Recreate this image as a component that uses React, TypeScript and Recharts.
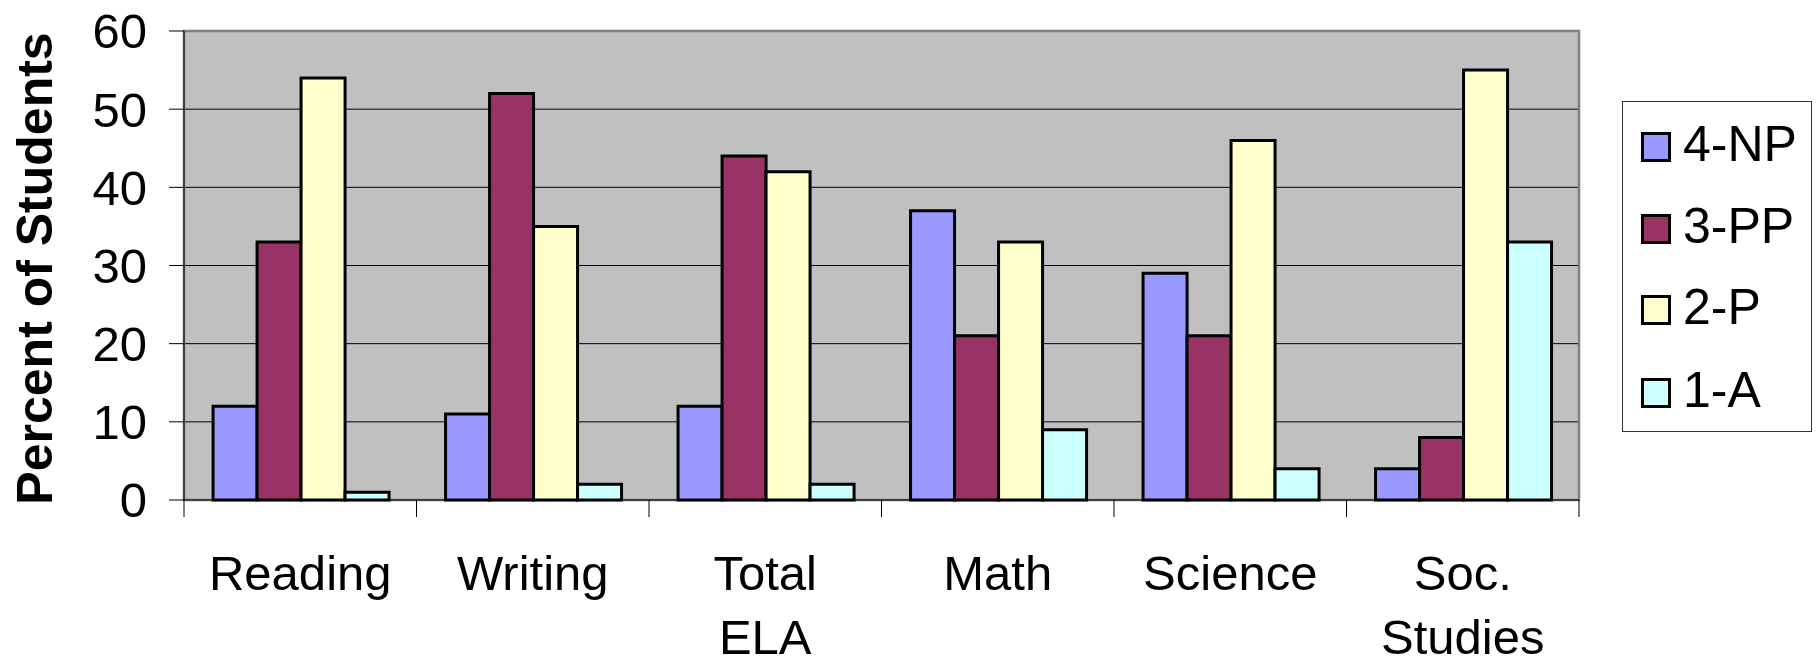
import React from 'react';
import { BarChart, Bar, XAxis, YAxis, CartesianGrid, Legend, ReferenceArea } from 'recharts';

const categories = ['Reading', 'Writing', 'Total ELA', 'Math', 'Science', 'Soc. Studies'];
const np4 = [12, 11, 12, 37, 29, 4];
const pp3 = [33, 52, 44, 21, 21, 8];
const p2 = [54, 35, 42, 33, 46, 55];
const a1 = [1, 2, 2, 9, 4, 33];
const yTicks = [0, 10, 20, 30, 40, 50, 60];
const seriesNames = ['4-NP', '3-PP', '2-P', '1-A'];
const seriesKeys = ['np4', 'pp3', 'p2', 'a1'];
const seriesColors = ['#9999FF', '#993366', '#FFFFCC', '#CCFFFF'];

const data = categories.map((c, i) => ({ name: c, np4: np4[i], pp3: pp3[i], p2: p2[i], a1: a1[i] }));

const FONT = '"Liberation Sans", Arial, Helvetica, sans-serif';

function XTick(props: any) {
  const { x, y, payload } = props;
  const half = payload.offset || 0;
  const lines = String(payload.value).split(' ');
  const isLast = payload.value === categories[categories.length - 1];
  return (
    <g>
      <line x1={x - half} x2={x - half} y1={y} y2={y + 17} stroke="#000" strokeWidth={1} />
      {isLast && <line x1={x + half} x2={x + half} y1={y} y2={y + 17} stroke="#000" strokeWidth={1} />}
      {lines.map((l, i) => (
        <text key={i} x={x} y={y + 90 + i * 64} textAnchor="middle" fontSize={49} fontFamily={FONT} fill="#000">
          {l}
        </text>
      ))}
    </g>
  );
}

function YLabel(props: any) {
  const vb = props.viewBox || { x: 0, y: 31, width: 184, height: 469 };
  const cx = vb.x + 52;
  const cy = vb.y + vb.height / 2 + 3;
  return (
    <text x={cx} y={cy} transform={`rotate(-90 ${cx} ${cy})`} textAnchor="middle" fontSize={50} fontWeight="bold" fontFamily={FONT} fill="#000">
      Percent of Students
    </text>
  );
}

function LegendBox(props: any) {
  const payload = [...(props.payload || [])].sort(
    (a: any, b: any) => seriesNames.indexOf(a.value) - seriesNames.indexOf(b.value)
  );
  const baselines = [59, 141, 222, 305];
  return (
    <div style={{ width: 190, height: 331, boxSizing: 'border-box', border: '1px solid #333', background: '#fff' }}>
      <svg width={188} height={329} style={{ display: 'block' }}>
        {payload.map((p: any, i: number) => (
          <g key={i}>
            <rect x={19.5} y={baselines[i] - 27.5} width={27} height={27} fill={p.color} stroke="#000" strokeWidth={3} />
            <text x={60} y={baselines[i]} fontSize={50} fontFamily={FONT} fill="#000">{p.value}</text>
          </g>
        ))}
      </svg>
    </div>
  );
}

export default function App() {
  return (
    <div style={{ position: 'absolute', left: 0, top: 0, width: 1816, height: 661, background: '#fff' }}>
      <BarChart
        width={1816}
        height={661}
        data={data}
        margin={{ top: 31, right: 237, left: 0, bottom: 0 }}
        barCategoryGap="12.5%"
        barGap={0}
      >
        <CartesianGrid vertical={false} horizontal={true} stroke="#000" strokeWidth={1} fill="#C0C0C0" fillOpacity={1} />
        <ReferenceArea y1={0} y2={60} fill="none" stroke="#808080" strokeWidth={2.5} ifOverflow="visible" />
        <XAxis
          dataKey="name"
          height={161}
          tickLine={false}
          tickSize={0}
          tickMargin={0}
          axisLine={{ stroke: '#000', strokeWidth: 1 }}
          tick={<XTick />}
          interval={0}
        />
        <YAxis
          width={184}
          domain={[0, 60]}
          ticks={yTicks}
          interval={0}
          tickSize={15}
          tickMargin={22}
          tickLine={{ stroke: '#000' }}
          axisLine={{ stroke: '#000' }}
          tick={{ fontSize: 49, fontFamily: FONT, fill: '#000' }}
          label={<YLabel />}
        />
        <Legend
          layout="vertical"
          align="center"
          verticalAlign="middle"
          content={<LegendBox />}
          wrapperStyle={{ left: 1622, top: 101, width: 190, height: 331 }}
        />
        {seriesKeys.map((k, i) => (
          <Bar
            key={k}
            dataKey={k}
            name={seriesNames[i]}
            fill={seriesColors[i]}
            stroke="#000"
            strokeWidth={3}
            isAnimationActive={false}
          />
        ))}
      </BarChart>
    </div>
  );
}
